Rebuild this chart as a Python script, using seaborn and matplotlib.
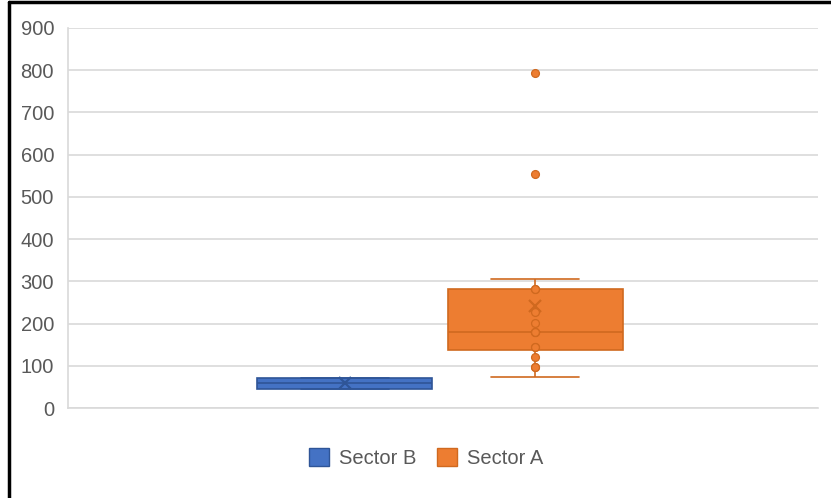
import numpy as np
import pandas as pd
import seaborn as sns
import matplotlib.pyplot as plt
from matplotlib.lines import Line2D
from matplotlib.patches import Patch

# Values per sector
sector_b = [46, 46, 71, 71]
sector_a = [74, 96, 98, 120, 144, 144, 181, 181, 181, 202, 228, 283, 283, 306, 554, 793]
series = ["Sector B", "Sector A"]
colors = {"Sector B": "#4472C4", "Sector A": "#ED7D31"}
edges = {"Sector B": "#2F5597", "Sector A": "#D0691F"}
y_ticks = [0, 100, 200, 300, 400, 500, 600, 700, 800, 900]

df = pd.DataFrame({
    "group": [""] * (len(sector_b) + len(sector_a)),
    "sector": ["Sector B"] * len(sector_b) + ["Sector A"] * len(sector_a),
    "value": sector_b + sector_a,
})

sns.set_theme(style="white")
plt.rcParams["font.family"] = ["Liberation Sans", "DejaVu Sans"]

fig = plt.figure(figsize=(8.31, 4.98), dpi=100)
ax = fig.add_axes([68 / 831, 90 / 498, 750 / 831, 380 / 498])

WIDTH = 0.507
GAP = 0.08
sns.boxplot(
    data=df, x="group", y="value", hue="sector", hue_order=series,
    palette=colors, width=WIDTH, gap=GAP, dodge=True, whis=1.5,
    showmeans=True, showfliers=False, legend=False, ax=ax,
    linewidth=1.2, saturation=1,
)

# restyle boxes / lines per sector
offsets = {"Sector B": -WIDTH / 4, "Sector A": WIDTH / 4}
for patch, s in zip(ax.patches, series):
    patch.set_facecolor(colors[s])
    patch.set_edgecolor(edges[s])
for line in ax.lines:
    xd = np.asarray(line.get_xdata(), dtype=float)
    if xd.size == 0:
        continue
    s = "Sector B" if np.mean(xd) < 0 else "Sector A"
    line.set_color(edges[s])
    if line.get_marker() not in ("None", None, ""):
        line.set_marker("x")
        line.set_markersize(9)
        line.set_markeredgewidth(1.6)
        line.set_markeredgecolor(edges[s])
        line.set_markerfacecolor(edges[s])

# inner points and outliers
for s, vals in (("Sector B", sector_b), ("Sector A", sector_a)):
    v = np.asarray(vals, dtype=float)
    q1, q3 = np.percentile(v, [25, 75])
    iqr = q3 - q1
    inside = v[(v >= q1 - 1.5 * iqr) & (v <= q3 + 1.5 * iqr)]
    lo, hi = inside.min(), inside.max()
    pts = v[(v > lo) & (v < hi) | (v < q1 - 1.5 * iqr) | (v > q3 + 1.5 * iqr)]
    if pts.size:
        ax.scatter(np.full(pts.size, offsets[s]), pts, s=32,
                   color=colors[s], edgecolor=edges[s], linewidth=0.9, zorder=5)

ax.set_xlim(-0.496, 0.504)
ax.set_ylim(0, 900)
ax.set_yticks(y_ticks)
ax.set_yticklabels([str(t) for t in y_ticks])
ax.tick_params(axis="y", labelsize=14.5, labelcolor="#595959", length=0, pad=10)
ax.set_xticks([])
ax.set_xlabel("")
ax.set_ylabel("")
ax.yaxis.grid(True, color="#D9D9D9", linewidth=1.2)
ax.set_axisbelow(True)
for side in ("top", "right"):
    ax.spines[side].set_visible(False)
for side in ("left", "bottom"):
    ax.spines[side].set_color("#D9D9D9")
    ax.spines[side].set_linewidth(1.2)

handles = [Patch(facecolor=colors[s], edgecolor=edges[s], label=s) for s in series]
fig.legend(handles=handles, loc="center", bbox_to_anchor=(426 / 831, 1 - 458 / 498),
           ncol=2, frameon=False, fontsize=14.5, labelcolor="#595959",
           handlelength=1.0, handleheight=1.0, handletextpad=0.5, columnspacing=1.0)

# outer frame
fig.add_artist(Line2D([9 / 831, 1], [1 - 2 / 498, 1 - 2 / 498], color="black", linewidth=2.5,
                      transform=fig.transFigure))
fig.add_artist(Line2D([9 / 831, 9 / 831], [0, 1 - 2 / 498], color="black", linewidth=2.5,
                      transform=fig.transFigure))

fig.savefig("out.png", dpi=100)
